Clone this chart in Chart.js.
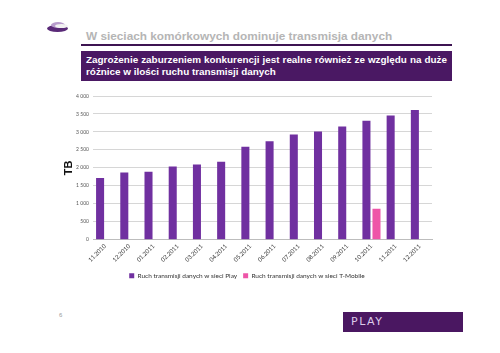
<!DOCTYPE html>
<html>
<head>
<meta charset="utf-8">
<script src="https://cdn.jsdelivr.net/npm/chart.js@4"></script>
<style>
body { margin:0; width:500px; height:353px; background:#fff; position:relative; overflow:hidden; font-family:"Liberation Sans", Arial, sans-serif; }
#logo { position:absolute; left:47px; top:22px; width:23px; height:11px; }
#logo span { position:absolute; border-radius:50%; }
#titre { position:absolute; left:86px; top:29px; font-size:11.8px; font-weight:bold; color:#b5b5b5; white-space:nowrap; }
#trait { position:absolute; left:81px; top:44px; width:371px; height:2px; background:#3d1452; }
#boite { position:absolute; left:81px; top:51px; width:361px; padding:3px 5px 0 5px; height:27px; background:#4a1863; color:#fff; font-size:9.9px; font-weight:bold; line-height:12.3px; text-align:justify; }
#graph { position:absolute; left:40px; top:76px; width:400px; height:213px; }
#page { position:absolute; left:59px; top:312px; font-size:6px; color:#999; }
#play { position:absolute; left:343px; top:312px; width:120px; height:20px; background:#4a1761; color:#dccbe9; font-size:11px; letter-spacing:1.5px; line-height:20px; padding-left:8px; box-sizing:border-box; font-family:"DejaVu Sans", sans-serif; }
</style>
</head>
<body>
<div id="logo">
  <span style="left:0;top:3px;width:21px;height:7px;background:#5a2a78;"></span>
  <span style="left:4px;top:0;width:14px;height:6px;background:#b89ccc;"></span>
  <span style="left:8px;top:2px;width:13px;height:4px;background:#f2f2f2;"></span>
</div>
<div id="titre">W sieciach komórkowych dominuje transmisja danych</div>
<div id="trait"></div>
<div id="boite">Zagrożenie zaburzeniem konkurencji jest realne również ze względu na duże różnice w ilości ruchu transmisji danych</div>
<div id="graph"><canvas id="chart"></canvas></div>
<div id="page">6</div>
<div id="play">PLAY</div>
<script>
const mois = ["11.2010", "12.2010", "01.2011", "02.2011", "03.2011", "04.2011", "05.2011", "06.2011", "07.2011", "08.2011", "09.2011", "10.2011", "11.2011", "12.2011"];
const play = [1720, 1870, 1890, 2040, 2090, 2170, 2590, 2740, 2930, 3010, 3150, 3310, 3460, 3610];
const tmobile = [null, null, null, null, null, null, null, null, null, null, null, 860, null, null];
const graduations = [0, 500, 1000, 1500, 2000, 2500, 3000, 3500, 4000];

function espace(v) {
    return String(v).replace(/\B(?=(\d{3})+(?!\d))/g, " ");
}

new Chart(document.getElementById("chart"), {
    type: "bar",
    data: {
        labels: mois,
        datasets: [{
            label: "Ruch transmisji danych w sieci Play",
            data: play,
            backgroundColor: "#7030a0",
            categoryPercentage: 0.83,
            barPercentage: 0.8
        }, {
            label: "Ruch transmisji danych w sieci T-Mobile",
            data: tmobile,
            backgroundColor: "#ee55a8",
            categoryPercentage: 0.83,
            barPercentage: 0.8
        }]
    },
    options: {
        responsive: true,
        maintainAspectRatio: false,
        animation: false,
        layout: { padding: { top: 20, right: 8, left: 22, bottom: 0 } },
        plugins: {
            tooltip: { enabled: false },
            legend: {
                position: "bottom",
                labels: {
                    boxWidth: 5, boxHeight: 5, padding: 6, color: "#333",
                    font: { size: 6.5, family: "Lato" }
                }
            }
        },
        scales: {
            x: {
                grid: { display: false, drawTicks: false },
                border: { color: "#bdbdbd" },
                ticks: {
                    color: "#333", font: { size: 6, family: "Lato" },
                    minRotation: 45, maxRotation: 45, padding: 3
                }
            },
            y: {
                min: 0, max: 4000,
                afterBuildTicks: s => { s.ticks = graduations.map(v => ({ value: v })); },
                afterFit: s => { s.width = 31; },
                grid: { color: "#d6d6d6", drawTicks: false },
                border: { display: false },
                title: { display: true, text: "TB", color: "#111", font: { size: 11, weight: "bold", family: "Liberation Sans" }, padding: 0 },
                ticks: {
                    color: "#555", font: { size: 5, family: "Lato" }, padding: 4,
                    callback: v => espace(v)
                }
            }
        }
    }
});
</script>
</body>
</html>
